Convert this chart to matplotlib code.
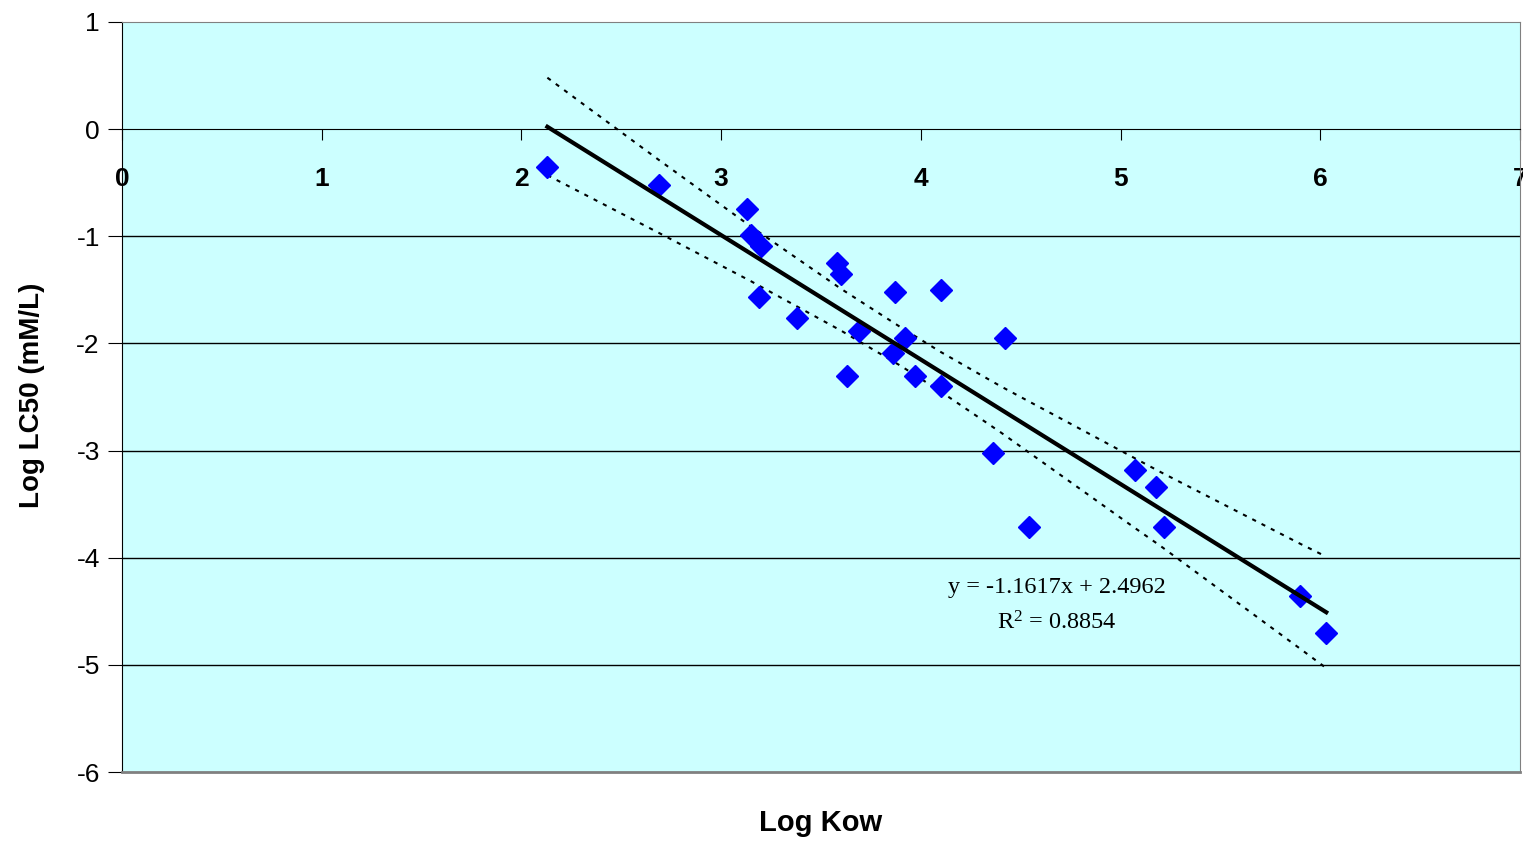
import matplotlib
matplotlib.use("Agg")
import matplotlib.pyplot as plt
import numpy as np

plt.rcParams['font.family'] = ['Liberation Sans', 'DejaVu Sans']
plt.rcParams['axes.unicode_minus'] = False

# observed points (log Kow, log LC50)
log_kow = [2.13, 2.69, 3.13, 3.15, 3.20, 3.19, 3.38, 3.58, 3.60, 3.63, 3.69,
           3.87, 4.10, 3.86, 3.92, 3.97, 4.10, 4.42, 4.36, 4.54, 5.07, 5.18,
           5.22, 5.90, 6.03]
log_lc50 = [-0.35, -0.52, -0.75, -0.99, -1.09, -1.57, -1.76, -1.25, -1.35,
            -2.30, -1.88, -1.52, -1.50, -2.09, -1.95, -2.30, -2.40, -1.95,
            -3.02, -3.71, -3.18, -3.34, -3.71, -4.36, -4.70]

# fit shown on chart
slope = -1.1617
intercept = 2.4962
r2 = 0.8854

# confidence band
band_x = [2.13, 2.69, 3.15, 3.60, 3.90, 4.10, 4.40, 5.07, 5.20, 5.90, 6.03]
band_hi = [0.48, -0.29, -0.91, -1.49, -1.85, -2.08, -2.40, -3.07, -3.20, -3.87, -3.99]
band_lo = [-0.43, -0.97, -1.42, -1.88, -2.21, -2.45, -2.83, -3.72, -3.89, -4.85, -5.03]

fig = plt.figure(figsize=(15.23, 8.42), dpi=100)
ax = fig.add_axes([0.0801, 0.0831, 0.9179, 0.8908])
ax.set_facecolor('#CCFFFF')

ax.set_xlim(0, 7)
ax.set_ylim(-6, 1)

for yv in range(-5, 0):
    ax.axhline(yv, color='black', lw=1, zorder=1)

fit_x = np.array([min(log_kow), max(log_kow)])
ax.plot(band_x, band_hi, color='black', lw=1.5, ls=(0, (2, 3)), zorder=2)
ax.plot(band_x, band_lo, color='black', lw=1.5, ls=(0, (2, 3)), zorder=2)
ax.plot(log_kow, log_lc50, ls='none', marker='D', ms=11, color='#0000FF',
        zorder=3)
ax.plot(fit_x, slope * fit_x + intercept, color='black', lw=3, zorder=4)

ax.text(4.68, -4.28, 'y = %.4fx + %.4f' % (slope, intercept), family='Liberation Serif',
        fontsize=17.5, ha='center', va='center')
ax.text(4.68, -4.61, '$\\mathregular{R^2}$ = %.4f' % r2, family='Liberation Serif',
        fontsize=17.5, ha='center', va='center')

ax.spines['bottom'].set_position(('data', 0))
ax.spines['bottom'].set_color('black')
ax.spines['left'].set_color('black')
ax.spines['top'].set_color('#808080')
ax.spines['right'].set_color('#808080')
ax.axhline(-6, color='#808080', lw=2, zorder=5, clip_on=False)

ax.set_xticks(range(0, 8))
ax.set_yticks(range(-6, 2))
ax.tick_params(axis='x', direction='out', length=8, pad=19, labelsize=19)
ax.tick_params(axis='y', direction='out', length=10, pad=6, labelsize=19)
for lbl in ax.get_xticklabels():
    lbl.set_fontweight('bold')

fig.text(0.539, 0.0226, 'Log Kow', fontsize=21, fontweight='bold', ha='center',
         va='center')
fig.text(0.021, 0.53, 'Log LC50 (mM/L)', fontsize=20, fontweight='bold',
         rotation=90, ha='center', va='center')

fig.savefig('out.png', dpi=100)
